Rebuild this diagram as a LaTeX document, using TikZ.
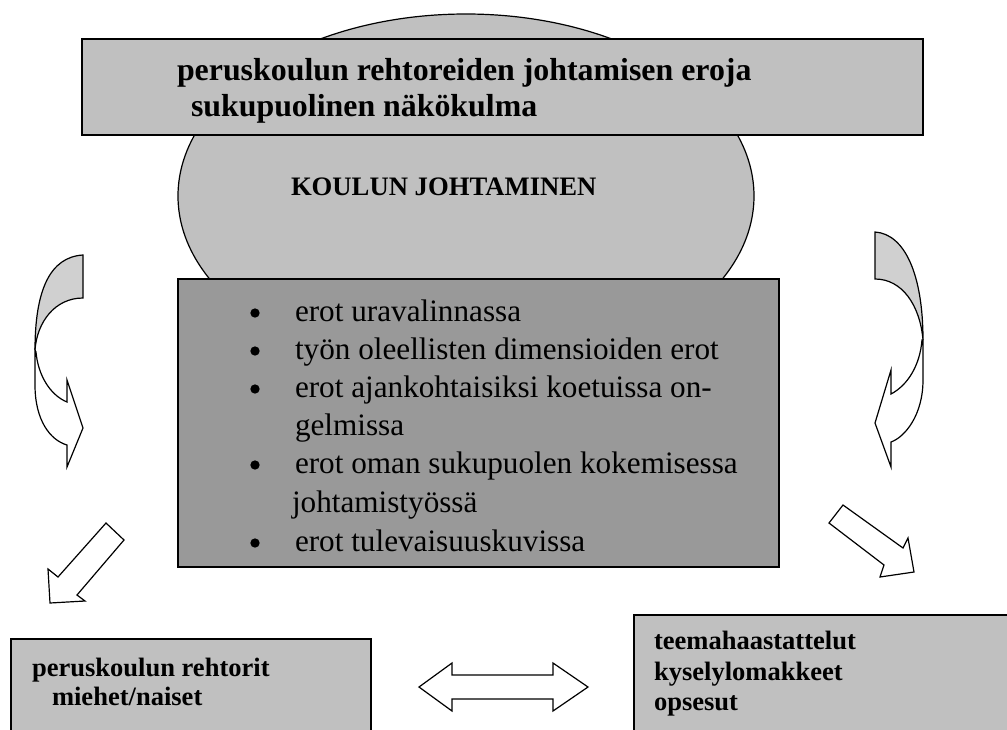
\documentclass[tikz,border=0pt]{standalone}
\usepackage{fontspec}
\setmainfont{Liberation Serif}
\usetikzlibrary{shapes.geometric}
\definecolor{panel}{HTML}{C0C0C0}
\definecolor{listfill}{HTML}{999999}
\definecolor{bandfill}{HTML}{D0D0D0}
\begin{document}
\begin{tikzpicture}[x=0.75pt,y=-0.75pt,
  every node/.style={inner sep=0pt, outer sep=0pt},
  outline/.style={draw=black, line width=0.9pt, line join=miter},
  panelbox/.style={outline, fill=panel, rectangle, anchor=north west},
  listbox/.style={outline, fill=listfill, rectangle, anchor=north west},
  blockarrow/.style={draw=black, line width=0.9pt, fill=white, line join=miter},
  bandpart/.style={draw=black, line width=0.9pt, fill=bandfill},
  titletext/.style={anchor=base west, font=\fontsize{23.9}{28}\selectfont\bfseries},
  headtext/.style={anchor=base west, font=\fontsize{20}{24}\selectfont\bfseries},
  itemtext/.style={anchor=base west, font=\fontsize{23.4}{28}\selectfont},
  smalltext/.style={anchor=base west, font=\fontsize{19.9}{24}\selectfont\bfseries},
  dot/.style={circle, fill=black, minimum size=7pt}]
\useasboundingbox (0,0) rectangle (1007,729);
\clip (0,0) rectangle (1007,729);

% central ellipse
\node[ellipse, outline, fill=panel, minimum width=432pt, minimum height=273pt] (core) at (466,196) {};
\node[headtext] (coretitle) at (291,195) {KOULUN JOHTAMINEN};

% title band
\node[panelbox, minimum width=630.75pt, minimum height=72pt] (title) at (82,39) {};
\node[titletext] (title1) at (177,80) {peruskoulun rehtoreiden johtamisen eroja};
\node[titletext] (title2) at (191,116) {sukupuolinen näkökulma};

% list of differences
\node[listbox, minimum width=450.75pt, minimum height=216pt] (list) at (178,279) {};
\node[dot] (d1) at (255,313) {};
\node[itemtext] (i1) at (295,321) {erot uravalinnassa};
\node[dot] (d2) at (255,351) {};
\node[itemtext] (i2) at (295,359) {työn oleellisten dimensioiden erot};
\node[dot] (d3) at (255,389) {};
\node[itemtext] (i3) at (295,397) {erot ajankohtaisiksi koetuissa on-};
\node[itemtext] (i3b) at (295,435) {gelmissa};
\node[dot] (d4) at (255,465) {};
\node[itemtext] (i4) at (295,473) {erot oman sukupuolen kokemisessa};
\node[itemtext] (i4b) at (292,512) {johtamistyössä};
\node[dot] (d5) at (255,543) {};
\node[itemtext] (i5) at (295,551) {erot tulevaisuuskuvissa};

% left curved arrow
\draw[bandpart] (83,255) .. controls (50,257) and (35,290) .. (35,350)
  .. controls (37,322) and (55,298) .. (83,298) -- cycle;
\draw[blockarrow] (35,350) -- (35,385) .. controls (35,420) and (50,440) .. (67,445)
  -- (67,467) -- (83,428) -- (67,380) -- (67,402)
  .. controls (50,395) and (38,375) .. (36,352) -- cycle;

% right curved arrow
\draw[bandpart] (875,232) .. controls (905,234) and (923,275) .. (923,340)
  .. controls (920,305) and (902,279) .. (875,279) -- cycle;
\draw[blockarrow] (923,340) -- (923,380) .. controls (923,415) and (905,437) .. (891,442)
  -- (891,467) -- (875,423) -- (891,370) -- (891,394)
  .. controls (908,385) and (920,365) .. (922,340) -- cycle;

% diagonal block arrows
\draw[blockarrow] (50,603) -- (48,569) -- (58,577) -- (106,523) -- (124,540)
  -- (77,595) -- (85,601) -- cycle;
\draw[blockarrow] (914,572) -- (880,577) -- (884,565) -- (829,523) -- (843,505)
  -- (903,548) -- (908,538) -- cycle;

% bottom boxes
\node[panelbox, minimum width=270pt, minimum height=80pt] (people) at (11,639) {};
\node[smalltext] (people1) at (32,676) {peruskoulun rehtorit};
\node[smalltext] (people2) at (52,705) {miehet/naiset};

\node[panelbox, minimum width=290pt, minimum height=95pt] (methods) at (634,615) {};
\node[smalltext] (methods1) at (654,649) {teemahaastattelut};
\node[smalltext] (methods2) at (654,680) {kyselylomakkeet};
\node[smalltext] (methods3) at (654,710) {opsesut};

% two-way block arrow between the bottom boxes
\draw[blockarrow] (419,687) -- (452,663) -- (452,675) -- (553,675) -- (553,663)
  -- (588,687) -- (553,711) -- (553,699) -- (452,699) -- (452,711) -- cycle;
\end{tikzpicture}
\end{document}
